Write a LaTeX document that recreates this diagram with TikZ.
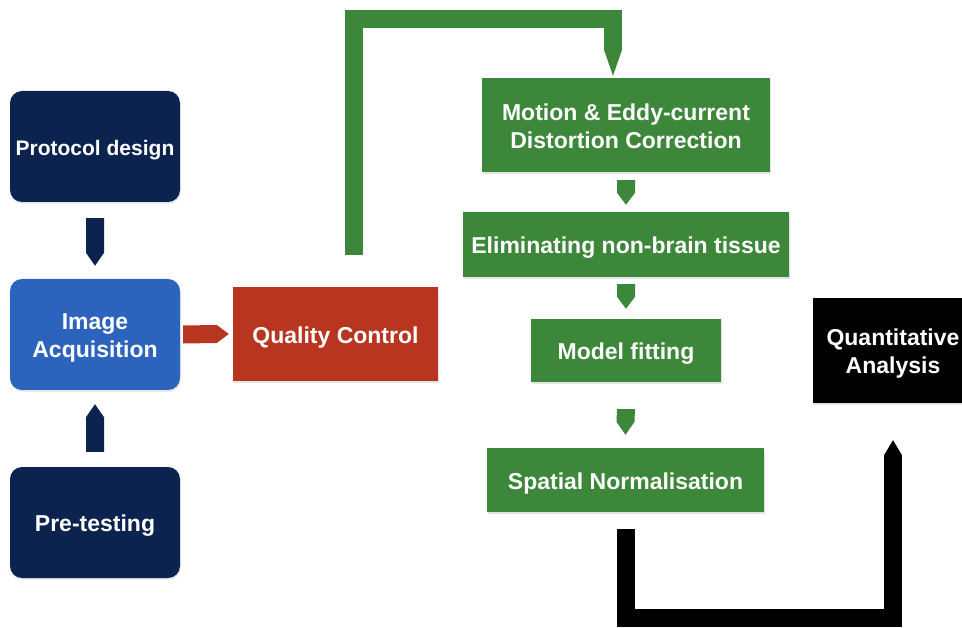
\documentclass[tikz,border=0pt]{standalone}
\usepackage{fontspec}
\setmainfont{Liberation Sans}
\usetikzlibrary{calc,shadows}

\definecolor{navy}{RGB}{12,35,80}
\definecolor{acqblue}{RGB}{44,99,189}
\definecolor{qcred}{RGB}{184,54,31}
\definecolor{stepgreen}{RGB}{61,135,58}

\tikzset{
  box/.style={rectangle, draw=none, text=white, align=center, inner sep=0pt,
    font=\bfseries\fontsize{23}{28}\selectfont,
    text height=18.8pt, text depth=0pt,
    drop shadow={opacity=0.22, shadow xshift=0.6pt, shadow yshift=-1.6pt}},
  twoline/.style={text height=46.8pt, text depth=0pt},
  rbox/.style={box, rounded corners=12pt},
  pipe/.style={line width=18pt, line join=miter, line cap=butt}
}

\begin{document}
\begin{tikzpicture}[x=1pt, y=-1pt]
\useasboundingbox (0,0) rectangle (962,628);

% left column: study preparation
\node[rbox, fill=navy, minimum width=170, minimum height=111,
      font=\bfseries\fontsize{21}{26}\selectfont, text height=17.6pt] (pd) at (95,146.5) {Protocol design};
\node[rbox, twoline, fill=acqblue, minimum width=170, minimum height=111] (ia) at (95,334.5) {Image\\Acquisition};
\node[rbox, fill=navy, minimum width=170, minimum height=111] (pt) at (95,522.5) {Pre-testing};

% quality control
\node[box, fill=qcred, minimum width=205, minimum height=94] (qc) at (335.5,334) {Quality Control};

% processing pipeline
\node[box, twoline, fill=stepgreen, minimum width=288, minimum height=94] (mc) at (626,125) {Motion \& Eddy-current\\Distortion Correction};
\node[box, fill=stepgreen, minimum width=326, minimum height=65] (el) at (626,244.5) {Eliminating non-brain tissue};
\node[box, fill=stepgreen, minimum width=190, minimum height=63] (mf) at (626,350.5) {Model fitting};
\node[box, fill=stepgreen, minimum width=277, minimum height=64] (sn) at (625.5,480) {Spatial Normalisation};

% analysis
\node[box, twoline, fill=black, minimum width=160, minimum height=105] (qa) at (893,350.5) {Quantitative\\Analysis};

% block arrows into the acquisition box
\fill[navy] ($(pd.south)+(-9,16)$) -- ($(pd.south)+(9,16)$) -- ($(ia.north)+(9,-26)$)
  -- ($(ia.north)+(0,-13)$) -- ($(ia.north)+(-9,-26)$) -- cycle;
\fill[navy] ($(pt.north)+(-9,-15)$) -- ($(pt.north)+(9,-15)$) -- ($(ia.south)+(9,27)$)
  -- ($(ia.south)+(0,14)$) -- ($(ia.south)+(-9,27)$) -- cycle;
\fill[qcred] ($(ia.east)+(3,-9)$) -- ($(qc.west)+(-16,-9)$) -- ($(qc.west)+(-4,0)$)
  -- ($(qc.west)+(-16,9)$) -- ($(ia.east)+(3,9)$) -- cycle;

% loop from quality control to the first correction step
\coordinate (gs) at ($(qc.north)+(18,-32)$);
\coordinate (gy) at (0,19);
\coordinate (ge) at ($(mc.north)+(-13,-28)$);
\draw[pipe, stepgreen] (gs) -- (gs |- gy) -- (ge |- gy) -- (ge);
\fill[stepgreen] ($(ge)+(-9,0)$) -- ($(ge)+(9,0)$) -- ($(mc.north)+(-13,-2)$) -- cycle;

% arrows between pipeline steps
\fill[stepgreen] ($(mc.south)+(-9,8)$) -- ($(mc.south)+(9,8)$) -- ($(el.north)+(9,-19)$)
  -- ($(el.north)+(0,-7)$) -- ($(el.north)+(-9,-19)$) -- cycle;
\fill[stepgreen] ($(el.south)+(-9,7)$) -- ($(el.south)+(9,7)$) -- ($(mf.north)+(9,-22)$)
  -- ($(mf.north)+(0,-10)$) -- ($(mf.north)+(-9,-22)$) -- cycle;
\fill[stepgreen] ($(mf.south)+(-9,27)$) -- ($(mf.south)+(9,27)$) -- ($(sn.north)+(9,-26)$)
  -- ($(sn.north)+(0,-13)$) -- ($(sn.north)+(-9,-26)$) -- cycle;

% loop from normalisation to the analysis
\coordinate (bs) at ($(sn.south)+(0,17)$);
\coordinate (by) at (0,618);
\coordinate (be) at ($(qa.south)+(0,52)$);
\draw[pipe, black] (bs) -- (bs |- by) -- (be |- by) -- (be);
\fill[black] ($(be)+(-9,0)$) -- ($(be)+(9,0)$) -- ($(qa.south)+(0,37)$) -- cycle;
\end{tikzpicture}
\end{document}
